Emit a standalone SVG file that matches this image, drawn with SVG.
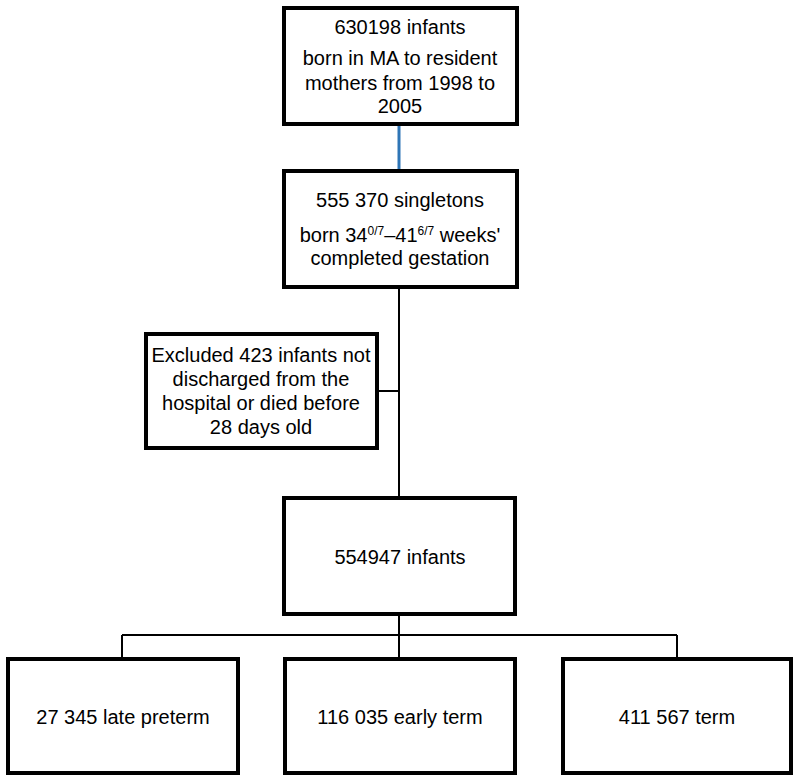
<svg xmlns="http://www.w3.org/2000/svg" width="800" height="783" viewBox="0 0 800 783">
<style>
.box{fill:#fff;stroke:#000;stroke-width:4}
.ln{stroke:#000;stroke-width:2;fill:none}
text{font-family:"Liberation Sans",Arial,sans-serif;font-size:20px;fill:#000;text-anchor:middle}
.sup{font-size:12px}
</style>
<rect width="800" height="783" fill="#fff"/>
<g id="connectors">
<line x1="399" y1="124" x2="399" y2="170" stroke="#2e75b6" stroke-width="3"/>
<line class="ln" x1="399" y1="287" x2="399" y2="497"/>
<line class="ln" x1="377" y1="391" x2="399" y2="391"/>
<line class="ln" x1="399" y1="614" x2="399" y2="635"/>
<line class="ln" x1="122" y1="635" x2="677" y2="635"/>
<line class="ln" x1="122" y1="635" x2="122" y2="658"/>
<line class="ln" x1="399" y1="635" x2="399" y2="658"/>
<line class="ln" x1="677" y1="635" x2="677" y2="658"/>
</g>
<g id="n1">
<rect class="box" x="284" y="8" width="233" height="116"/>
<text x="400" y="34">630198 infants</text>
<text x="400" y="65">born in MA to resident</text>
<text x="400" y="90">mothers from 1998 to</text>
<text x="400" y="113">2005</text>
</g>
<g id="n2">
<rect class="box" x="284" y="171" width="233" height="116"/>
<text x="400" y="207">555 370 singletons</text>
<text x="400" y="242">born 34<tspan class="sup" dy="-7">0/7</tspan><tspan dy="7">–41</tspan><tspan class="sup" dy="-7">6/7</tspan><tspan dy="7"> weeks'</tspan></text>
<text x="400" y="265">completed gestation</text>
</g>
<g id="n3">
<rect class="box" x="146" y="334" width="231" height="114"/>
<text x="261" y="362">Excluded 423 infants not</text>
<text x="261" y="386">discharged from the</text>
<text x="261" y="410">hospital or died before</text>
<text x="261" y="434">28 days old</text>
</g>
<g id="n4">
<rect class="box" x="284" y="498" width="231" height="116"/>
<text x="400" y="564">554947 infants</text>
</g>
<g id="n5">
<rect class="box" x="8" y="659" width="230" height="114"/>
<text x="123" y="724">27 345 late preterm</text>
</g>
<g id="n6">
<rect class="box" x="285" y="659" width="230" height="114"/>
<text x="400" y="724">116 035 early term</text>
</g>
<g id="n7">
<rect class="box" x="563" y="659" width="228" height="114"/>
<text x="677" y="724">411 567 term</text>
</g>
</svg>
